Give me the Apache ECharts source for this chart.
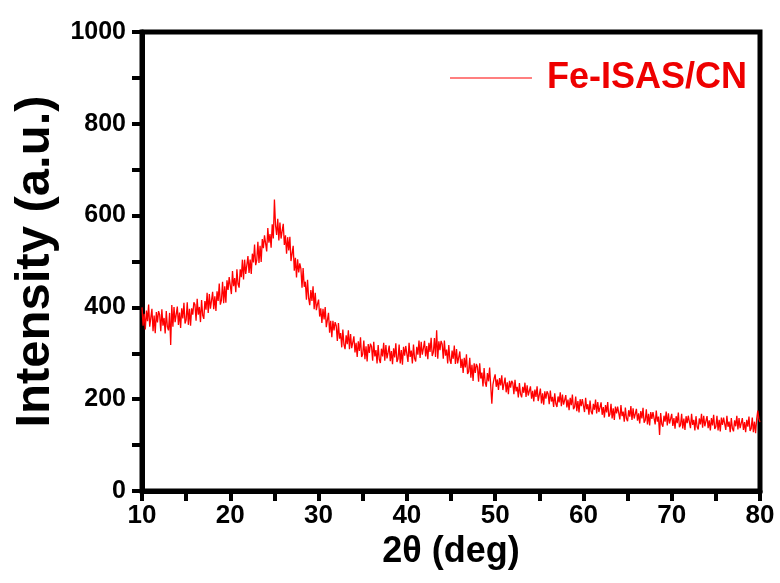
<!DOCTYPE html>
<html>
<head>
<meta charset="utf-8">
<script src="https://cdn.jsdelivr.net/npm/echarts@6/dist/echarts.min.js"></script>
<style>html,body{margin:0;padding:0;background:#fff}#c{width:780px;height:583px}</style>
</head>
<body>
<div id="c"></div>
<script>
// 2θ start and sampling step (deg)
const thetaStart = 10;
const thetaStep = 0.125;
// Intensity, 8 samples per degree (one row per degree, 10 .. 80)
const intensity = [
  400,360,386,352,393,370,406,358,
  360,397,348,382,344,390,367,392,
  384,348,396,360,377,343,392,357,
  350,388,318,405,358,401,368,385,
  402,362,389,355,398,376,410,365,
  373,411,362,397,360,398,384,411,
  406,371,419,384,401,368,416,383,
  375,414,395,432,388,429,397,415,
  434,396,424,392,435,414,452,406,
  416,456,409,446,410,459,438,466,
  462,429,479,446,464,433,483,451,
  443,483,466,504,461,504,473,492,
  512,475,504,473,517,498,537,492,
  503,543,497,534,499,549,529,557,
  554,522,573,541,560,530,581,550,
  635,579,558,593,546,585,550,566,
  582,536,557,517,553,524,554,501,
  503,534,480,508,465,505,476,496,
  484,443,486,445,456,417,460,420,
  405,438,414,446,396,432,394,407,
  417,380,398,366,397,374,401,357,
  360,388,345,371,335,371,350,368,
  360,327,366,332,344,313,352,319,
  309,339,320,350,309,342,311,324,
  337,302,323,292,326,305,335,292,
  298,328,287,315,282,320,301,321,
  315,284,325,293,307,278,318,287,
  279,310,293,323,284,318,289,302,
  317,283,305,276,311,291,322,281,
  288,319,278,307,275,314,295,316,
  312,281,323,292,306,278,319,289,
  282,314,297,328,290,325,297,311,
  327,293,316,287,323,303,334,294,
  302,333,292,350,288,326,307,327,
  320,288,328,295,308,278,318,286,
  277,306,288,317,277,309,278,291,
  304,268,288,257,290,269,298,255,
  260,290,247,275,240,278,257,277,
  270,238,278,245,258,228,268,236,
  227,257,239,269,229,190,232,245,
  254,227,243,220,246,230,252,220,
  224,247,215,237,211,240,225,240,
  235,211,242,217,227,204,235,211,
  204,227,214,236,205,230,208,218,
  228,201,218,195,221,205,228,196,
  200,223,191,213,188,217,201,217,
  212,189,219,195,205,183,213,190,
  183,206,193,215,185,210,188,198,
  209,182,199,176,203,187,210,178,
  183,206,174,196,171,200,185,200,
  196,172,203,178,189,166,197,173,
  167,190,177,199,169,194,172,182,
  193,166,183,160,187,171,194,162,
  167,190,158,180,155,184,169,184,
  180,156,187,163,173,151,182,158,
  152,176,162,185,155,180,158,168,
  179,153,169,147,174,158,181,149,
  154,178,145,168,143,172,157,172,
  168,145,175,151,162,122,170,146,
  140,164,151,173,143,169,147,157,
  168,142,159,136,163,148,171,139,
  144,168,136,158,133,163,148,164,
  160,137,168,144,155,132,163,140,
  134,158,145,168,138,164,141,152,
  163,137,154,132,159,143,166,135,
  140,164,132,155,130,160,144,160,
  156,133,164,140,151,128,159,136,
  130,154,141,164,134,159,137,148,
  159,133,150,128,155,140,162,131,
  136,160,128,151,126,157,175,157,
  150
];
const seriesName = 'Fe-ISAS/CN';
const xTitle = '2θ (deg)';
const yTitle = 'Intensity (a.u.)';

const data = intensity.map((v, i) => [thetaStart + i * thetaStep, v]);

const chart = echarts.init(document.getElementById('c'), null, {renderer: 'canvas'});
const font = 'Liberation Sans, Arial, sans-serif';
function line() { return {show: true, onZero: false, lineStyle: {color: '#000', width: 5}}; }
function tick() { return {show: true, inside: false, length: 10, lineStyle: {width: 4, color: '#000'}}; }
function minor() { return {show: true, splitNumber: 2, length: 10, lineStyle: {width: 4, color: '#000'}}; }
chart.setOption({
  animation: false,
  color: ['#ff0000'],
  grid: {left: 142, right: 20, top: 32, bottom: 92, containLabel: false,
         show: true, borderColor: '#000', borderWidth: 5, backgroundColor: 'transparent'},
  legend: {
    right: 28, top: 55, icon: 'rect', itemWidth: 82, itemHeight: 1.2, itemGap: 13,
    itemStyle: {color: '#ff0000'},
    formatter: name => ' ' + name,
    textStyle: {color: '#ee0000', fontSize: 36, fontWeight: 'bold', fontFamily: font},
    data: [{name: seriesName, itemStyle: {color: '#ff0000'}}]
  },
  xAxis: [{
    type: 'value', min: 10, max: 80, interval: 10,
    name: xTitle, nameLocation: 'middle', nameGap: 40,
    nameTextStyle: {fontSize: 36, fontWeight: 'bold', color: '#000', fontFamily: font},
    axisLine: line(), axisTick: tick(), minorTick: minor(),
    axisLabel: {margin: 12, fontSize: 26, fontWeight: 'bold', color: '#000', fontFamily: font},
    splitLine: {show: false}, minorSplitLine: {show: false}
  }],
  yAxis: [{
    type: 'value', min: 0, max: 1000, interval: 200,
    name: yTitle, nameLocation: 'middle', nameGap: 80,
    nameTextStyle: {fontSize: 49, fontWeight: 'bold', color: '#000', fontFamily: font},
    axisLine: line(), axisTick: tick(), minorTick: minor(),
    axisLabel: {margin: 16, fontSize: 25, fontWeight: 'bold', color: '#000', fontFamily: font,
                formatter: v => String(v)},
    splitLine: {show: false}, minorSplitLine: {show: false}
  }],
  series: [{
    name: seriesName, type: 'line', data: data, showSymbol: false, symbol: 'none',
    color: '#ff0000',
    lineStyle: {color: '#ff0000', width: 1.3}, itemStyle: {color: '#ff0000'}
  }]
});
</script>
</body>
</html>
